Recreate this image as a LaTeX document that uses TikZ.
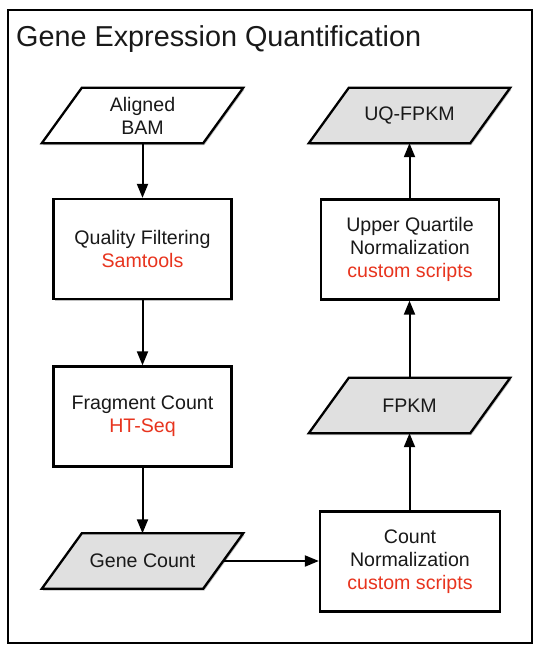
\documentclass[tikz,border=0pt]{standalone}
\usepackage{fontspec}
\setmainfont{Liberation Sans}
\usetikzlibrary{arrows.meta,shadows,backgrounds,calc}
\definecolor{toolred}{RGB}{232,52,30}
\definecolor{paragray}{RGB}{224,224,224}
\definecolor{textblack}{RGB}{25,25,25}
\tikzset{
  bodyfont/.style={font=\fontsize{19.6}{23}\selectfont, text=textblack},
  shade/.style={drop shadow={shadow xshift=1.2pt, shadow yshift=-1.8pt, opacity=0.25, fill=black}},
  stepbox/.style={bodyfont, draw, line width=2.3pt, fill=white, shade,
    minimum width=178pt, minimum height=100pt, align=center, inner sep=0pt},
  paranode/.style={bodyfont, minimum width=161pt, minimum height=55pt, align=center, inner sep=0pt},
  parashape/.style={draw, line width=2.3pt, line join=miter, shade},
  flow/.style={line width=2pt, -{Triangle[length=14pt,width=11pt]}},
}
\newcommand\drawpara[2]{%
  \draw[parashape,fill=#2] ([xshift=20pt]#1.north west) -- ([xshift=20pt]#1.north east)
    -- ([xshift=-20pt]#1.south east) -- ([xshift=-20pt]#1.south west) -- cycle;}
\newcommand\tool[1]{\textcolor{toolred}{#1}}
\begin{document}
\begin{tikzpicture}[x=1pt,y=-1pt]
\useasboundingbox (0,0) rectangle (538,658);
% outer frame
\node[draw, line width=2.3pt, minimum width=524pt, minimum height=633pt, inner sep=0pt] (frame) at (270,326.5) {};
\node[anchor=base west, font=\fontsize{28.8}{34}\selectfont, text=textblack, inner sep=0pt] (title) at (16,47) {Gene Expression Quantification};
% left column
\node[paranode] (bam) at (142.5,115.5) {Aligned\\BAM};
\node[stepbox] (qf) at (142.5,249) {Quality Filtering\\\tool{Samtools}};
\node[stepbox] (fc) at (142.5,416.5) {Fragment Count\\\tool{HT-Seq}};
\node[paranode] (gc) at (142.5,561) {Gene Count};
% right column
\node[stepbox, minimum width=180pt] (cn) at (410,561.5) {Count\\Normalization\\\tool{custom scripts}};
\node[paranode] (fpkm) at (409.5,405.5) {FPKM};
\node[stepbox] (uq) at (410,249.5) {Upper Quartile\\Normalization\\\tool{custom scripts}};
\node[paranode] (uqf) at (409.5,115.5) {UQ-FPKM};
\begin{scope}[on background layer]
  \fill[white] (0,0) rectangle (538,658);
  \drawpara{bam}{white}
  \drawpara{gc}{paragray}
  \drawpara{fpkm}{paragray}
  \drawpara{uqf}{paragray}
\end{scope}
% connectors
\draw[flow] (bam.south) -- (qf.north);
\draw[flow] (qf.south) -- (fc.north);
\draw[flow] (fc.south) -- (gc.north);
\draw[flow] (gc.east) -- (gc.east -| cn.west);
\draw[flow] (cn.north -| fpkm.south) -- (fpkm.south);
\draw[flow] (fpkm.north) -- (fpkm.north |- uq.south);
\draw[flow] (uq.north -| uqf.south) -- (uqf.south);
\end{tikzpicture}
\end{document}
